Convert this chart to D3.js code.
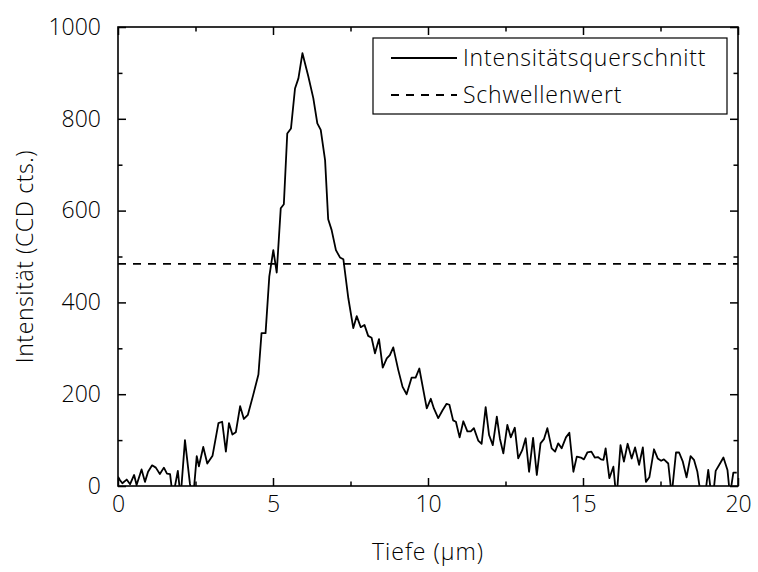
<!DOCTYPE html>
<html lang="de">
<head>
<meta charset="utf-8">
<script src="https://d3js.org/d3.v7.min.js"></script>
<style>
  body { margin: 0; background: #fff; }
  text { font-family: "Open Sans", sans-serif; font-weight: 350; fill: #000; }
</style>
</head>
<body>
<script>
// depth (µm) and intensity (CCD cts.)
const depth = [
  0.00, 0.06, 0.14, 0.28, 0.39, 0.52, 0.60, 0.76, 0.87, 0.97,
  1.10, 1.22, 1.35, 1.48, 1.58, 1.68, 1.77, 1.93, 2.02, 2.16,
  2.32, 2.42, 2.54, 2.61, 2.75, 2.88, 3.05, 3.24, 3.36, 3.48,
  3.58, 3.69, 3.80, 3.94, 4.06, 4.19, 4.36, 4.53, 4.63, 4.76,
  4.88, 5.01, 5.12, 5.25, 5.35, 5.46, 5.58, 5.71, 5.82, 5.95,
  6.14, 6.30, 6.43, 6.54, 6.68, 6.78, 6.89, 7.03, 7.16, 7.27,
  7.43, 7.59, 7.70, 7.83, 7.95, 8.07, 8.18, 8.29, 8.42, 8.54,
  8.67, 8.77, 8.88, 9.04, 9.18, 9.31, 9.47, 9.60, 9.72, 9.85,
  9.96, 10.09, 10.19, 10.33, 10.47, 10.60, 10.69, 10.81, 10.90, 11.02,
  11.14, 11.27, 11.38, 11.48, 11.62, 11.73, 11.86, 11.97, 12.09, 12.22,
  12.32, 12.43, 12.56, 12.67, 12.80, 12.91, 13.04, 13.15, 13.26, 13.39,
  13.51, 13.63, 13.74, 13.85, 13.99, 14.10, 14.20, 14.31, 14.45, 14.56,
  14.69, 14.80, 14.93, 15.03, 15.14, 15.27, 15.38, 15.48, 15.58, 15.66,
  15.73, 15.85, 15.98, 16.08, 16.21, 16.32, 16.44, 16.57, 16.68, 16.81,
  16.93, 17.03, 17.14, 17.29, 17.41, 17.52, 17.61, 17.75, 17.86, 18.00,
  18.10, 18.22, 18.34, 18.47, 18.58, 18.69, 18.80, 18.94, 19.04, 19.14,
  19.20, 19.28, 19.42, 19.53, 19.66, 19.74, 19.85, 19.96
];
const intensity = [
  20, 13, 6, 14, 4, 24, 2, 36, 9, 31,
  45, 40, 26, 40, 27, 26, -25, 33, -25, 100,
  5, -30, 65, 43, 85, 49, 66, 137, 140, 75,
  137, 112, 117, 174, 146, 155, 198, 243, 333, 333,
  456, 514, 465, 605, 614, 768, 779, 866, 888, 943,
  892, 845, 790, 776, 710, 581, 558, 514, 498, 494,
  409, 344, 370, 346, 351, 327, 323, 289, 320, 258,
  278, 285, 302, 253, 216, 200, 236, 236, 256, 209,
  169, 190, 169, 148, 165, 179, 177, 143, 140, 106,
  141, 119, 119, 126, 99, 92, 172, 111, 89, 151,
  103, 71, 133, 106, 127, 60, 78, 104, 31, 105,
  24, 93, 102, 126, 82, 75, 93, 82, 106, 116,
  31, 64, 62, 58, 73, 75, 62, 63, 58, 57,
  82, 17, 42, -30, 89, 53, 92, 60, 84, 46,
  84, 9, 19, 80, 60, 55, 58, 49, -20, 73,
  73, 53, 19, 65, 57, 31, -20, -20, 35, -20,
  -20, 33, 49, 62, 35, -20, 29, 29
];
const threshold = 484;
const xMajor = [0, 5, 10, 15, 20];
const xMinor = [2.5, 7.5, 12.5, 17.5];
const yMajor = [0, 200, 400, 600, 800, 1000];
const yMinor = [100, 300, 500, 700, 900];
const legendLabels = ["Intensitätsquerschnitt", "Schwellenwert"];

const W = 758, H = 572;
const margin = {top: 27, right: 20, bottom: 86, left: 118};
const width = W - margin.left - margin.right;
const height = H - margin.top - margin.bottom;

const svg = d3.select("body").append("svg")
  .attr("width", W)
  .attr("height", H);
const g = svg.append("g")
  .attr("transform", "translate(" + margin.left + "," + margin.top + ")");

const x = d3.scaleLinear().domain([0, 20]).range([0, width]);
const y = d3.scaleLinear().domain([0, 1000]).range([height, 0]);

// clip so the negative dips vanish under the bottom axis
svg.append("defs").append("clipPath").attr("id", "plot")
  .append("rect").attr("width", width).attr("height", height);

const pts = depth.map((d, i) => ({x: d, y: intensity[i]}));

g.append("path")
  .datum(pts)
  .attr("clip-path", "url(#plot)")
  .attr("fill", "none")
  .attr("stroke", "#000")
  .attr("stroke-width", 1.8)
  .attr("stroke-linejoin", "round")
  .attr("d", d3.line().x(d => x(d.x)).y(d => y(d.y)));

g.append("line")
  .attr("x1", 0).attr("x2", width)
  .attr("y1", y(threshold)).attr("y2", y(threshold))
  .attr("stroke", "#000")
  .attr("stroke-width", 1.8)
  .attr("stroke-dasharray", "8,7");

// axes, ticks pointing inward on all four sides
function tickAxis(axis, vals, size, labels) {
  const a = axis.tickValues(vals).tickSizeInner(-size).tickSizeOuter(0);
  a.tickFormat(labels ? d3.format("d") : "");
  return a;
}
const fontSize = "23px";

g.append("g").attr("transform", "translate(0," + height + ")")
  .call(tickAxis(d3.axisBottom(x), xMajor, 8, true).tickPadding(10));
g.append("g").attr("transform", "translate(0," + height + ")")
  .call(tickAxis(d3.axisBottom(x), xMinor, 4.5, false));
g.append("g").call(tickAxis(d3.axisTop(x), xMajor, 8, false));
g.append("g").call(tickAxis(d3.axisTop(x), xMinor, 4.5, false));

g.append("g")
  .call(tickAxis(d3.axisLeft(y), yMajor, 8, true).tickPadding(17));
g.append("g").call(tickAxis(d3.axisLeft(y), yMinor, 4.5, false));
g.append("g").attr("transform", "translate(" + width + ",0)")
  .call(tickAxis(d3.axisRight(y), yMajor, 8, false));
g.append("g").attr("transform", "translate(" + width + ",0)")
  .call(tickAxis(d3.axisRight(y), yMinor, 4.5, false));

g.selectAll(".domain").remove();
g.selectAll(".tick line").attr("stroke", "#000").attr("stroke-width", 1.5);
g.selectAll(".tick text")
  .style("font-family", "'Open Sans', sans-serif")
  .style("font-weight", 350)
  .style("font-size", fontSize)
  .attr("fill", "#000");

g.append("rect")
  .attr("width", width).attr("height", height)
  .attr("fill", "none").attr("stroke", "#000").attr("stroke-width", 1.6);

// axis titles
svg.append("text")
  .attr("x", margin.left + width / 2)
  .attr("y", 560)
  .attr("text-anchor", "middle")
  .style("font-size", fontSize)
  .style("letter-spacing", "1px")
  .text("Tiefe (µm)");

svg.append("text")
  .attr("transform", "translate(33," + (margin.top + height / 2) + ") rotate(-90)")
  .attr("text-anchor", "middle")
  .style("font-size", fontSize)
  .style("letter-spacing", "0.6px")
  .text("Intensität (CCD cts.)");

// legend
const lg = svg.append("g").attr("transform", "translate(373,38)");
lg.append("rect")
  .attr("width", 354).attr("height", 76)
  .attr("fill", "#fff").attr("stroke", "#000").attr("stroke-width", 1.2);
legendLabels.forEach((lab, i) => {
  const yy = 20 + i * 37;
  lg.append("line")
    .attr("x1", 18).attr("x2", 84)
    .attr("y1", yy).attr("y2", yy)
    .attr("stroke", "#000").attr("stroke-width", 1.8)
    .attr("stroke-dasharray", i === 0 ? null : "8,7");
  lg.append("text")
    .attr("x", 90).attr("y", yy)
    .attr("dy", "0.35em")
    .style("font-size", fontSize)
    .style("letter-spacing", "0.8px")
    .text(lab);
});
</script>
</body>
</html>
